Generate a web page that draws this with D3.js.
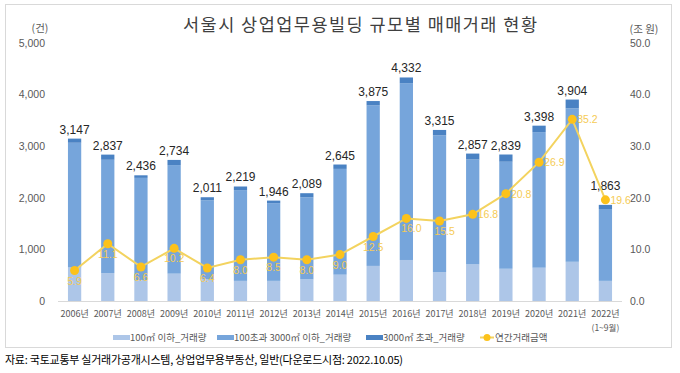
<!DOCTYPE html>
<html>
<head>
<meta charset="utf-8">
<script src="https://cdn.jsdelivr.net/npm/d3@7"></script>
<style>
	body {margin: 0; background: #fff;}
	svg {display: block; font-family: 'Noto Sans CJK KR', sans-serif;}
</style>
</head>
<body>
<div id="chart"></div>
<script>
const years = ['2006', '2007', '2008', '2009', '2010', '2011', '2012', '2013', '2014', '2015', '2016', '2017', '2018', '2019', '2020', '2021', '2022'];
const small = [650, 540, 400, 530, 420, 390, 390, 420, 510, 680, 795, 560, 710, 625, 645, 760, 390];
const totals = [3147, 2837, 2436, 2734, 2011, 2219, 1946, 2089, 2645, 3875, 4332, 3315, 2857, 2839, 3398, 3904, 1863];
const large = [80, 100, 50, 100, 60, 70, 50, 80, 85, 85, 110, 105, 115, 140, 125, 170, 80];
const amount = [5.9, 11.1, 6.6, 10.2, 6.4, 8.0, 8.5, 8.0, 9.0, 12.5, 16.0, 15.5, 16.8, 20.8, 26.9, 35.2, 19.6];
const leftTicks = [0, 1000, 2000, 3000, 4000, 5000];
const rightTicks = [0, 10, 20, 30, 40, 50];
const legendLabels = ['100㎡ 이하_거래량', '100초과 3000㎡ 이하_거래량', '3000㎡ 초과_거래량', '연간거래금액'];

const width = 680, height = 373;
const colors = {small: '#adc6e8', mid: '#76a5db', large: '#4a82c3', line: '#f3d35f', dot: '#fcc21b', amountText: '#f5cb55'};

const svg = d3.select('#chart')
	.append('svg')
	.attr('width', width)
	.attr('height', height);

// frame
svg.append('rect')
	.attr('x', 5.5)
	.attr('y', 4.5)
	.attr('width', 666)
	.attr('height', 343)
	.attr('fill', 'none')
	.attr('stroke', '#d9d9d9');

const x = d3.scaleBand()
	.domain(years)
	.range([58, 622])
	.paddingInner(0.6)
	.paddingOuter(0.3);
const y = d3.scaleLinear().domain([0, 5000]).range([301, 43]);
const y2 = d3.scaleLinear().domain([0, 50]).range([301, 43]);

const stackData = years.map((yr, i) =>({
	year: yr,
	small: small[i],
	mid: totals[i] - small[i] - large[i],
	large: large[i]
}));
const series = d3.stack().keys(['small', 'mid', 'large'])(stackData);

svg.append('text')
	.attr('x', 360)
	.attr('y', 31)
	.attr('text-anchor', 'middle')
	.attr('font-size', 17.5)
	.attr('textLength', 354)
	.attr('fill', '#404040')
	.text('서울시 상업업무용빌딩 규모별 매매거래 현황');

// axes (no lines, only labels)
const leftAxis = svg.append('g')
	.attr('transform', 'translate(48,0)')
	.call(d3.axisLeft(y).tickValues(leftTicks).tickSize(0).tickFormat(d3.format(',')));
const rightAxis = svg.append('g')
	.attr('transform', 'translate(627,0)')
	.call(d3.axisRight(y2).tickValues(rightTicks).tickSize(0).tickFormat(d3.format('.1f')));
[leftAxis, rightAxis].forEach(a =>{
	a.select('.domain').remove();
	a.selectAll('text')
		.attr('font-family', "'Liberation Sans', Arial, sans-serif")
		.attr('font-size', 10.5)
		.attr('fill', '#595959');
});

svg.append('text')
	.attr('x', 40)
	.attr('y', 32)
	.attr('text-anchor', 'middle')
	.attr('font-size', 10.5)
	.attr('fill', '#595959')
	.text('(건)');
svg.append('text')
	.attr('x', 644)
	.attr('y', 33)
	.attr('text-anchor', 'middle')
	.attr('font-size', 10.5)
	.attr('fill', '#595959')
	.text('(조 원)');

svg.append('line')
	.attr('x1', 58)
	.attr('x2', 622)
	.attr('y1', y(0) + 0.5)
	.attr('y2', y(0) + 0.5)
	.attr('stroke', '#d9d9d9');

svg.append('g')
	.selectAll('g')
	.data(series)
	.join('g')
	.attr('fill', d => colors[d.key])
	.selectAll('rect')
	.data(d => d)
	.join('rect')
	.attr('x', d => x(d.data.year))
	.attr('width', x.bandwidth())
	.attr('y', d => y(d[1]))
	.attr('height', d => y(d[0]) - y(d[1]));

// total labels, lifted above the amount marker where they would collide
svg.append('g')
	.selectAll('text')
	.data(totals)
	.join('text')
	.attr('x', (d, i) => x(years[i]) + x.bandwidth() / 2)
	.attr('y', (d, i) => Math.min(y(d) - 5, y2(amount[i]) - 10))
	.attr('text-anchor', 'middle')
	.attr('font-family', "'Liberation Sans', Arial, sans-serif")
	.attr('font-size', 12)
	.attr('fill', '#262626')
	.text(d3.format(','));

// x labels
svg.append('g')
	.selectAll('text')
	.data(years)
	.join('text')
	.attr('x', d => x(d) + x.bandwidth() / 2)
	.attr('y', 317)
	.attr('text-anchor', 'middle')
	.attr('font-size', 9)
	.attr('fill', '#595959')
	.text(d => d + '년');
svg.append('text')
	.attr('x', x('2022') + x.bandwidth() / 2)
	.attr('y', 331)
	.attr('text-anchor', 'middle')
	.attr('font-size', 8.5)
	.attr('fill', '#595959')
	.text('(1~9월)');

// amount line
const cx = i => x(years[i]) + x.bandwidth() / 2;
svg.append('path')
	.datum(amount)
	.attr('fill', 'none')
	.attr('stroke', colors.line)
	.attr('stroke-width', 2)
	.attr('d', d3.line().x((d, i) => cx(i)).y(d => y2(d)));

svg.append('g')
	.selectAll('circle')
	.data(amount)
	.join('circle')
	.attr('cx', (d, i) => cx(i))
	.attr('cy', d => y2(d))
	.attr('r', 4.5)
	.attr('fill', colors.dot);

svg.append('g')
	.selectAll('text')
	.data(amount)
	.join('text')
	.attr('x', (d, i) => i >= 12 ? cx(i) + 5 : cx(i) + (i >= 10 ? 5 : 0))
	.attr('y', (d, i) => i >= 12 ? y2(d) + 4 : y2(d) + 14)
	.attr('text-anchor', (d, i) => i >= 12 ? 'start' : 'middle')
	.attr('font-family', "'Liberation Sans', Arial, sans-serif")
	.attr('font-size', 10.5)
	.attr('fill', colors.amountText)
	.text(d3.format('.1f'));

// legend
const legend = svg.append('g').attr('font-size', 9.5).attr('fill', '#595959');
const legendX = [113, 217, 366, 480];
const legendColors = [colors.small, colors.mid, colors.large];
legendColors.forEach((c, i) =>{
	legend.append('rect')
		.attr('x', legendX[i])
		.attr('y', 335)
		.attr('width', 17)
		.attr('height', 5)
		.attr('fill', c);
});
legend.append('line')
	.attr('x1', legendX[3])
	.attr('x2', legendX[3] + 14)
	.attr('y1', 337.5)
	.attr('y2', 337.5)
	.attr('stroke', colors.line)
	.attr('stroke-width', 2);
legend.append('circle')
	.attr('cx', legendX[3] + 7)
	.attr('cy', 337.5)
	.attr('r', 3.5)
	.attr('fill', colors.dot);
legendLabels.forEach((t, i) =>{
	legend.append('text')
		.attr('x', legendX[i] + (i === 3 ? 15 : 17))
		.attr('y', 341)
		.text(t);
});

svg.append('text')
	.attr('x', 5)
	.attr('y', 364)
	.attr('font-size', 11)
	.attr('textLength', 398)
	.attr('fill', '#000')
	.text('자료: 국토교통부 실거래가공개시스템, 상업업무용부동산, 일반(다운로드시점: 2022.10.05)');
</script>
</body>
</html>
